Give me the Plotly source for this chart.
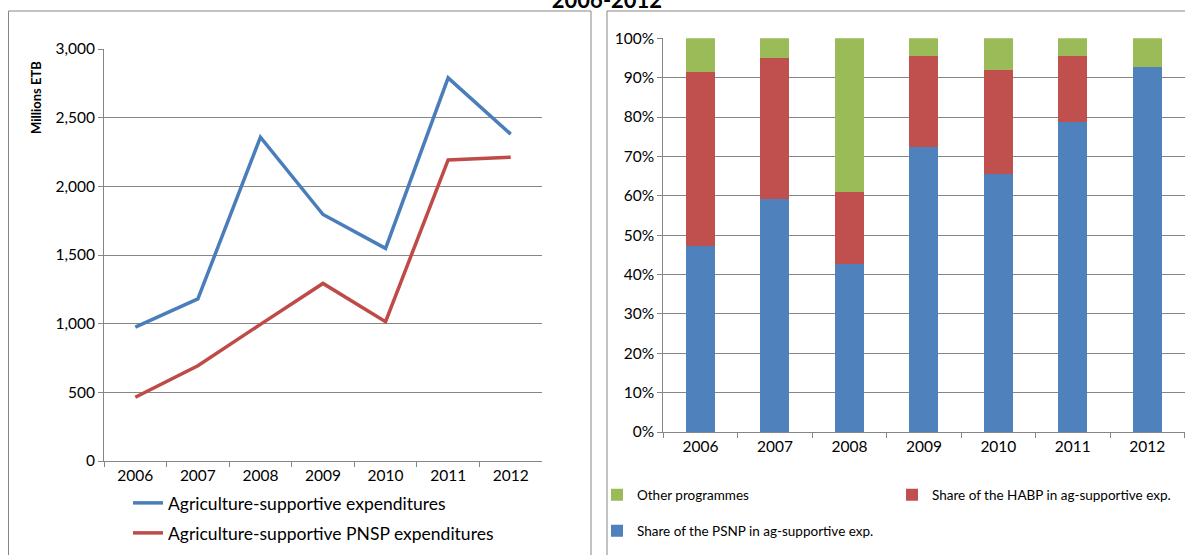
import plotly.graph_objects as go

years = ["2006", "2007", "2008", "2009", "2010", "2011", "2012"]
ag_total = [975, 1180, 2358, 1795, 1548, 2790, 2380]
ag_pnsp = [464, 694, 995, 1293, 1014, 2192, 2212]
psnp_share = [47.3, 59.2, 42.8, 72.3, 65.5, 78.7, 92.8]
habp_share = [44.2, 35.9, 18.1, 23.2, 26.4, 16.8, 0.0]
other_share = [8.5, 4.9, 39.1, 4.5, 8.1, 4.5, 7.2]
y_ticks_left = [0, 500, 1000, 1500, 2000, 2500, 3000]
y_labels_left = ["0", "500", "1,000", "1,500", "2,000", "2,500", "3,000"]
y_ticks_right = [0, 10, 20, 30, 40, 50, 60, 70, 80, 90, 100]
y_labels_right = ["0%", "10%", "20%", "30%", "40%", "50%", "60%", "70%", "80%", "90%", "100%"]

W, H = 1185, 555
FONT = "Lato"
GRID = "#868686"


def px(x):
    return x / W


def py(y):
    return 1 - y / H


fig = go.Figure()
fig.add_trace(go.Scatter(x=years, y=ag_total, mode="lines", name="Agriculture-supportive expenditures",
                         line=dict(color="#4A7EBB", width=3.5), xaxis="x", yaxis="y", legend="legend",
                         showlegend=True))
fig.add_trace(go.Scatter(x=years, y=ag_pnsp, mode="lines", name="Agriculture-supportive PNSP expenditures",
                         line=dict(color="#BE4B48", width=3.5), xaxis="x", yaxis="y", legend="legend2",
                         showlegend=True))
fig.add_trace(go.Bar(x=years, y=psnp_share, name="Share of the PSNP in ag-supportive exp.",
                     marker=dict(color="#4F81BD", line=dict(width=0)), xaxis="x2", yaxis="y2", legend="legend5",
                     showlegend=True))
fig.add_trace(go.Bar(x=years, y=habp_share, name="Share of the HABP in ag-supportive exp.",
                     marker=dict(color="#C0504D", line=dict(width=0)), xaxis="x2", yaxis="y2", legend="legend4",
                     showlegend=True))
fig.add_trace(go.Bar(x=years, y=other_share, name="Other programmes",
                     marker=dict(color="#9BBB59", line=dict(width=0)), xaxis="x2", yaxis="y2", legend="legend3",
                     showlegend=True))

axis_common = dict(showline=True, linecolor=GRID, linewidth=1, ticks="outside", ticklen=5,
                   tickcolor=GRID, tickfont=dict(family=FONT, size=15.5, color="#000"), zeroline=False,
                   automargin=False)

leg_common = dict(bgcolor="rgba(0,0,0,0)", xanchor="left", yanchor="middle", borderwidth=0)

fig.update_layout(
    template="none",
    width=W, height=H,
    margin=dict(l=0, r=0, t=0, b=0, pad=0),
    paper_bgcolor="white", plot_bgcolor="white",
    font=dict(family=FONT, color="#000"),
    showlegend=True,
    barmode="stack", bargap=0.61,
    title=dict(text="<b>2006-2012</b>", xref="container", yref="container", x=px(607), y=1,
               xanchor="center", yanchor="middle", font=dict(family=FONT, size=22, color="#000"),
               automargin=False),
    xaxis=dict(domain=[px(104), px(542)], type="category", range=[-0.5, 6.5], tickson="boundaries",
               showgrid=False, anchor="y", **axis_common),
    yaxis=dict(domain=[py(461), py(49)], range=[0, 3000], tickvals=y_ticks_left, ticktext=y_labels_left,
               showgrid=True, gridcolor=GRID, gridwidth=1, anchor="x", **axis_common),
    xaxis2=dict(domain=[px(663.3), px(1184.5)], type="category", range=[-0.5, 6.5], tickson="boundaries",
                showgrid=False, anchor="y2", **axis_common),
    yaxis2=dict(domain=[py(432), py(38.3)], range=[0, 100], tickvals=y_ticks_right, ticktext=y_labels_right,
                showgrid=True, gridcolor=GRID, gridwidth=1, anchor="x2", **axis_common),
    legend=dict(x=px(128), y=py(503), font=dict(family=FONT, size=17.5), **leg_common),
    legend2=dict(x=px(128), y=py(533), font=dict(family=FONT, size=17.5), **leg_common),
    legend3=dict(x=px(597), y=py(495), font=dict(family=FONT, size=13.5), **leg_common),
    legend4=dict(x=px(892), y=py(495), font=dict(family=FONT, size=13.5), **leg_common),
    legend5=dict(x=px(597), y=py(531), font=dict(family=FONT, size=13.5), **leg_common),
    shapes=[
        dict(type="rect", xref="paper", yref="paper", x0=px(8.5), x1=px(591), y0=-0.05, y1=py(11),
             line=dict(color=GRID, width=1), layer="below"),
        dict(type="rect", xref="paper", yref="paper", x0=px(607), x1=1.05, y0=-0.05, y1=py(11),
             line=dict(color=GRID, width=1), layer="below"),
    ],
    annotations=[
        dict(text="<b>Millions ETB</b>", xref="paper", yref="paper", x=px(36), y=py(98), textangle=-90,
             xanchor="center", yanchor="middle", showarrow=False, font=dict(family=FONT, size=13)),
    ],
)

fig.write_html("out.html", config={"displayModeBar": False},
               post_script="document.body.style.margin='0';document.body.style.overflow='hidden';")
